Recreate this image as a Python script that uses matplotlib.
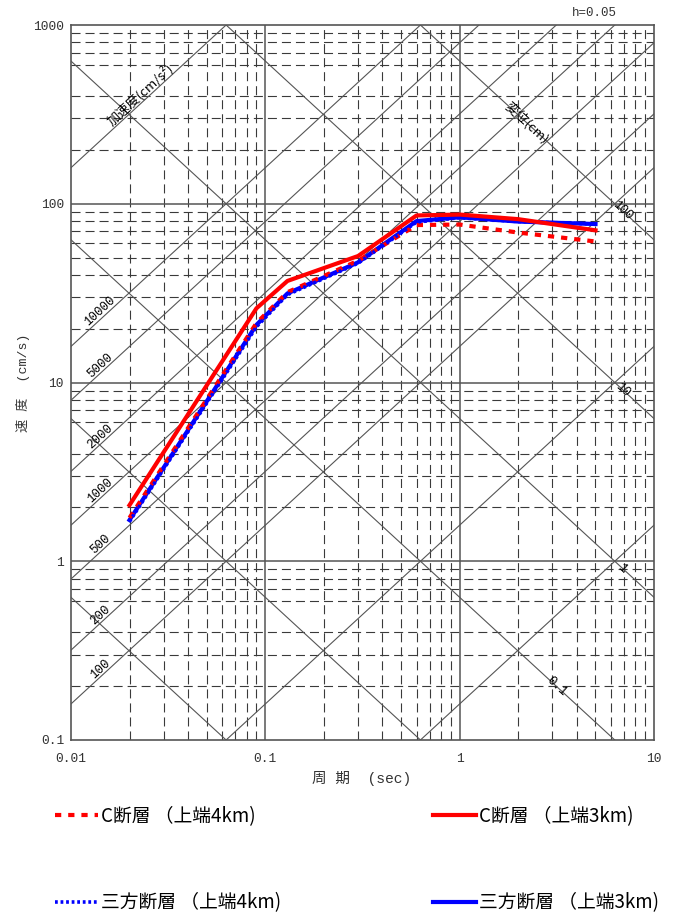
import numpy as np
import matplotlib
matplotlib.use("Agg")
import matplotlib.pyplot as plt
from matplotlib.ticker import NullLocator

plt.rcParams["lines.scale_dashes"] = False
plt.rcParams["font.family"] = ["Liberation Mono", "Noto Sans CJK JP", "DejaVu Sans"]
JP = ["Noto Sans CJK JP", "DejaVu Sans"]
MONO_JP = ["Liberation Mono", "Noto Sans CJK JP", "DejaVu Sans"]

# 耐専スペクトルのコントロールポイント (周期 sec, 速度 cm/s)
periods = [0.02, 0.09, 0.13, 0.3, 0.6, 1.0, 2.0, 5.0]
c_4km = [1.75, 21.5, 32.0, 48.0, 76.0, 76.5, 69.0, 61.5]
c_3km = [2.06, 26.0, 37.0, 51.0, 86.0, 87.0, 82.0, 71.0]
sanpo_4km = [1.67, 20.5, 31.0, 46.5, 79.0, 83.5, 79.5, 77.0]
sanpo_3km = [1.70, 21.0, 31.5, 47.0, 80.0, 84.0, 79.5, 77.0]

# 三軸グリッド
accel_lines = [1, 10, 100, 200, 500, 1000, 2000, 5000, 10000, 100000]
accel_labels = [100, 200, 500, 1000, 2000, 5000, 10000]
disp_lines = [0.001, 0.01, 0.1, 1, 10, 100]
disp_labels = {0.1: 3.15, 1: 6.87, 10: 6.87, 100: 6.87}

x_major = [0.01, 0.1, 1, 10]
y_major = [0.1, 1, 10, 100, 1000]
x_minor = [m * 10.0 ** e for e in (-2, -1, 0) for m in range(2, 10)]
y_minor = ([0.2, 0.3, 0.4, 0.6, 0.7, 0.8, 0.9]
           + [2, 3, 4, 6, 7, 8, 9]
           + [20, 30, 40, 50, 60, 70, 80, 90]
           + [200, 300, 400, 600, 700, 800, 900])

fig = plt.figure(figsize=(6.89, 9.17), dpi=100)
ax = fig.add_axes([71 / 689, 177 / 917, 583 / 689, 715 / 917])
ax.set_xscale("log")
ax.set_yscale("log")
ax.set_xlim(0.01, 10)
ax.set_ylim(0.1, 1000)

dash = (0, (6.5, 3.6))
for v in x_minor:
    ax.axvline(v, color="#3a3a3a", lw=0.8, ls=dash, zorder=1)
for v in y_minor:
    ax.axhline(v, color="#3a3a3a", lw=0.8, ls=dash, zorder=1)
for v in x_major[1:-1]:
    ax.axvline(v, color="#555555", lw=1.1, zorder=1)
for v in y_major[1:-1]:
    ax.axhline(v, color="#555555", lw=1.1, zorder=1)

# 斜め線の角度 (表示座標)
w_px = 583 / 3
h_px = 715 / 4
ang = np.degrees(np.arctan(h_px / w_px))

t_ends = np.array([0.001, 100.0])
for a in accel_lines:
    ax.plot(t_ends, a * t_ends / (2 * np.pi), color="#555555", lw=0.8, zorder=2)
for d in disp_lines:
    ax.plot(t_ends, 2 * np.pi * d / t_ends, color="#555555", lw=0.8, zorder=2)

for a in accel_labels:
    t = 0.0148
    ax.text(t, a * t / (2 * np.pi), str(a), rotation=ang, rotation_mode="anchor",
            ha="center", va="bottom", fontsize=9, zorder=3)
for d, t in disp_labels.items():
    ax.text(t, 2 * np.pi * d / t, str(d), rotation=-ang, rotation_mode="anchor",
            ha="center", va="center", fontsize=9, zorder=3)
t = 0.024
ax.text(t, 100000 * t / (2 * np.pi), "加速度(cm/s²)", rotation=ang, rotation_mode="anchor",
        ha="center", va="bottom", fontsize=9.5, family=JP, zorder=3)
t = 2.21
ax.text(t, 2 * np.pi * 100 / t, "変位(cm)", rotation=-ang, rotation_mode="anchor",
        ha="center", va="center", fontsize=9.5, family=JP, zorder=3)

# スペクトル
l_s3, = ax.plot(periods, sanpo_3km, color="#0000ff", lw=3.0, zorder=5)
l_c4, = ax.plot(periods, c_4km, color="#ff0000", lw=3.0, ls=(0, (4.5, 5)), zorder=6)
l_s4, = ax.plot(periods, sanpo_4km, color="#0000ff", lw=2.6, ls=(0, (2, 2)), zorder=7)
l_c3, = ax.plot(periods, c_3km, color="#ff0000", lw=3.0, zorder=8)

for s in ax.spines.values():
    s.set_color("#555555")
    s.set_linewidth(1.2)

ax.set_xticks(x_major)
ax.set_xticklabels(["0.01", "0.1", "1", "10"])
ax.set_yticks(y_major)
ax.set_yticklabels(["0.1", "1", "10", "100", "1000"])
ax.xaxis.set_minor_locator(NullLocator())
ax.yaxis.set_minor_locator(NullLocator())
ax.tick_params(length=0, labelsize=9.3, colors="#333333")
ax.tick_params(axis="x", pad=9)
ax.tick_params(axis="y", pad=5)

fig.text(362 / 689, 1 - 778 / 917, "周 期  (sec)", ha="center", va="center",
         fontsize=10.5, family=MONO_JP, color="#333333")
fig.text(23 / 689, 1 - 383 / 917, "速 度  (cm/s)", ha="center", va="center",
         rotation=90, fontsize=9.5, family=MONO_JP, color="#333333")
fig.text(594 / 689, 1 - 13 / 917, "h=0.05", ha="center", va="center",
         fontsize=9, color="#333333")

leg_kw = dict(frameon=False, borderpad=0, borderaxespad=0, handlelength=2.3,
              handletextpad=0.15, labelspacing=3.47, loc="upper left",
              prop={"family": JP, "size": 13.5})
fig.legend([l_c4, l_s4], ["C断層 （上端4km)", "三方断層 （上端4km)"],
           bbox_to_anchor=(55 / 689, 1 - 806 / 917), **leg_kw)
fig.legend([l_c3, l_s3], ["C断層 （上端3km)", "三方断層 （上端3km)"],
           bbox_to_anchor=(433 / 689, 1 - 806 / 917), **leg_kw)

fig.savefig("out.png", dpi=100)
